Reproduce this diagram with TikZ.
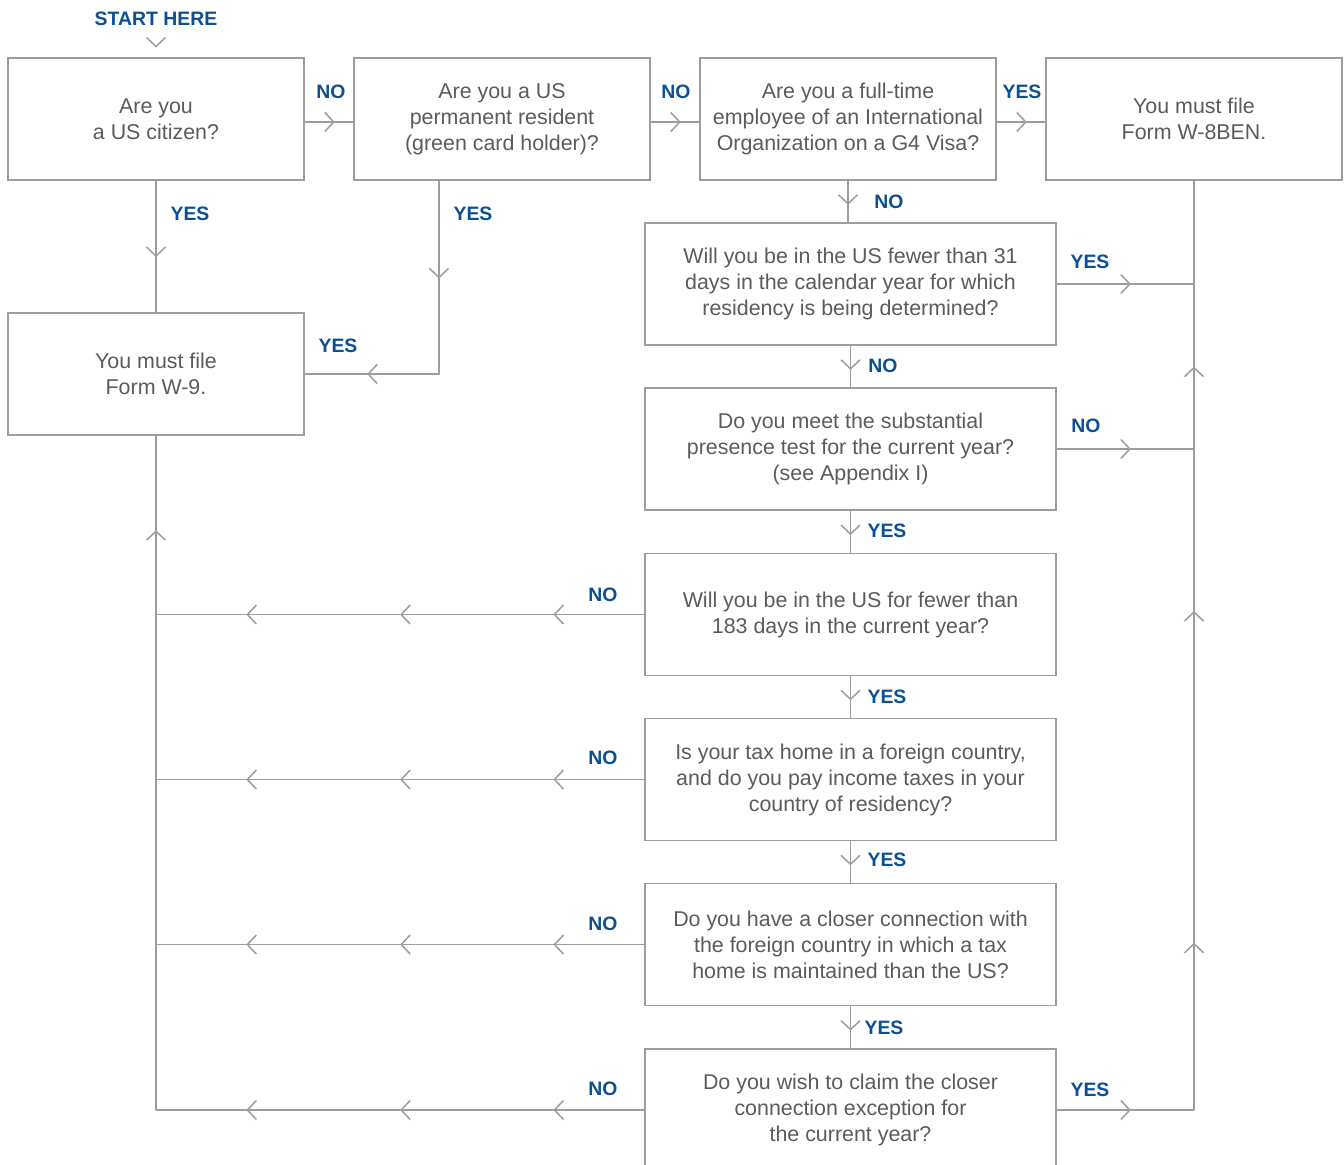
\documentclass[tikz,border=0pt]{standalone}
\usepackage{fontspec}
\setmainfont{Liberation Sans}
\definecolor{lgray}{HTML}{9D9D9D}
\definecolor{txt}{HTML}{5A5B5D}
\definecolor{ansblue}{HTML}{0B4F94}
\usetikzlibrary{arrows.meta,decorations.markings}
\tikzset{
  chev/.tip={Straight Barb[length=4.5pt,width=9.5pt]},
  qbox/.style={draw=lgray,line width=0.75pt,minimum width=148pt,minimum height=61pt,inner sep=0pt,align=center,text=txt,font=\fontsize{10.7}{13}\selectfont},
  wbox/.style={qbox,minimum width=205.5pt},
  ans/.style={font=\bfseries\fontsize{9.7}{12}\selectfont,text=ansblue},
  flow/.style={draw=lgray,line width=0.75pt},
  mid/.style={postaction={decorate,decoration={markings,mark=at position #1 with {\arrow[lgray,line width=0.75pt]{chev}}}}},
}
\begin{document}
\begin{tikzpicture}[x=0.5pt,y=-0.5pt]
\clip (0,0) rectangle (1344,1164);
% questions
\node[ans] (start) at (156,19) {START HERE};
\node[qbox] (cit) at (156,119) {Are you\\a US citizen?};
\node[qbox] (perm) at (502,119) {Are you a US\\permanent resident\\(green card holder)?};
\node[qbox] (gfour) at (848,119) {Are you a full-time\\employee of an International\\Organization on a G4 Visa?};
\node[qbox] (wben) at (1194,119) {You must file\\Form W-8BEN.};
\node[qbox] (wnine) at (156,374) {You must file\\Form W-9.};
\node[wbox] (days31) at (850.5,284) {Will you be in the US fewer than 31\\days in the calendar year for which\\residency is being determined?};
\node[wbox] (spt) at (850.5,449) {Do you meet the substantial\\presence test for the current year?\\(see Appendix I)};
\node[wbox] (days183) at (850.5,614.5) {Will you be in the US for fewer than\\183 days in the current year?};
\node[wbox] (taxhome) at (850.5,779.5) {Is your tax home in a foreign country,\\and do you pay income taxes in your\\country of residency?};
\node[wbox] (closer) at (850.5,944.5) {Do you have a closer connection with\\the foreign country in which a tax\\home is maintained than the US?};
\node[wbox] (claim) at (850.5,1110) {Do you wish to claim the closer\\connection exception for\\the current year?};
\coordinate (pdown) at (439,180);
% connectors
\path[mid=.6] (start) -- (cit);
\draw[flow,mid=.62] ([yshift=-1.5pt]cit.east) -- ([yshift=-1.5pt]perm.west);
\draw[flow,mid=.62] ([yshift=-1.5pt]perm.east) -- ([yshift=-1.5pt]gfour.west);
\draw[flow,mid=.62] ([yshift=-1.5pt]gfour.east) -- ([yshift=-1.5pt]wben.west);
\draw[flow,mid=.58] (cit) -- (wnine);
\draw[flow,mid=.3,mid=.81] (pdown) -- (pdown |- wnine.east) -- (wnine.east);
\draw[flow,mid=.58] (gfour.south) -- (gfour.south |- days31.north);
\draw[flow,mid=.58] (days31) -- (spt);
\draw[flow,mid=.58] (spt) -- (days183);
\draw[flow,mid=.58] (days183) -- (taxhome);
\draw[flow,mid=.58] (taxhome) -- (closer);
\draw[flow,mid=.58] (closer) -- (claim);
\draw[flow,mid=.54] (days31.east) -- (days31.east -| wben.south);
\draw[flow,mid=.54] (spt.east) -- (spt.east -| wben.south);
\draw[flow,mid=.54] (claim.east) -- (claim.east -| wben.south);
\draw[flow,mid=.18,mid=.537,mid=.8] (claim.east -| wben.south) -- (wben.south);
\draw[flow,mid=.186,mid=.5,mid=.815] (days183.west) -- (days183.west -| wnine.south);
\draw[flow,mid=.186,mid=.5,mid=.815] (taxhome.west) -- (taxhome.west -| wnine.south);
\draw[flow,mid=.186,mid=.5,mid=.815] (closer.west) -- (closer.west -| wnine.south);
\draw[flow,mid=.186,mid=.5,mid=.815] (claim.west) -- (claim.west -| wnine.south);
\draw[flow,mid=.86] (claim.west -| wnine.south) -- (wnine.south);
% answers
\node[ans] at (331,92) {NO};
\node[ans] at (676,92) {NO};
\node[ans] at (1022,92) {YES};
\node[ans] at (190,214) {YES};
\node[ans] at (473,214) {YES};
\node[ans] at (338,346) {YES};
\node[ans] at (889,202) {NO};
\node[ans] at (883,366) {NO};
\node[ans] at (887,531) {YES};
\node[ans] at (887,697) {YES};
\node[ans] at (887,860) {YES};
\node[ans] at (884,1028) {YES};
\node[ans] at (1090,262) {YES};
\node[ans] at (1086,426) {NO};
\node[ans] at (1090,1090) {YES};
\node[ans] at (603,595) {NO};
\node[ans] at (603,758) {NO};
\node[ans] at (603,924) {NO};
\node[ans] at (603,1089) {NO};
\end{tikzpicture}
\end{document}
